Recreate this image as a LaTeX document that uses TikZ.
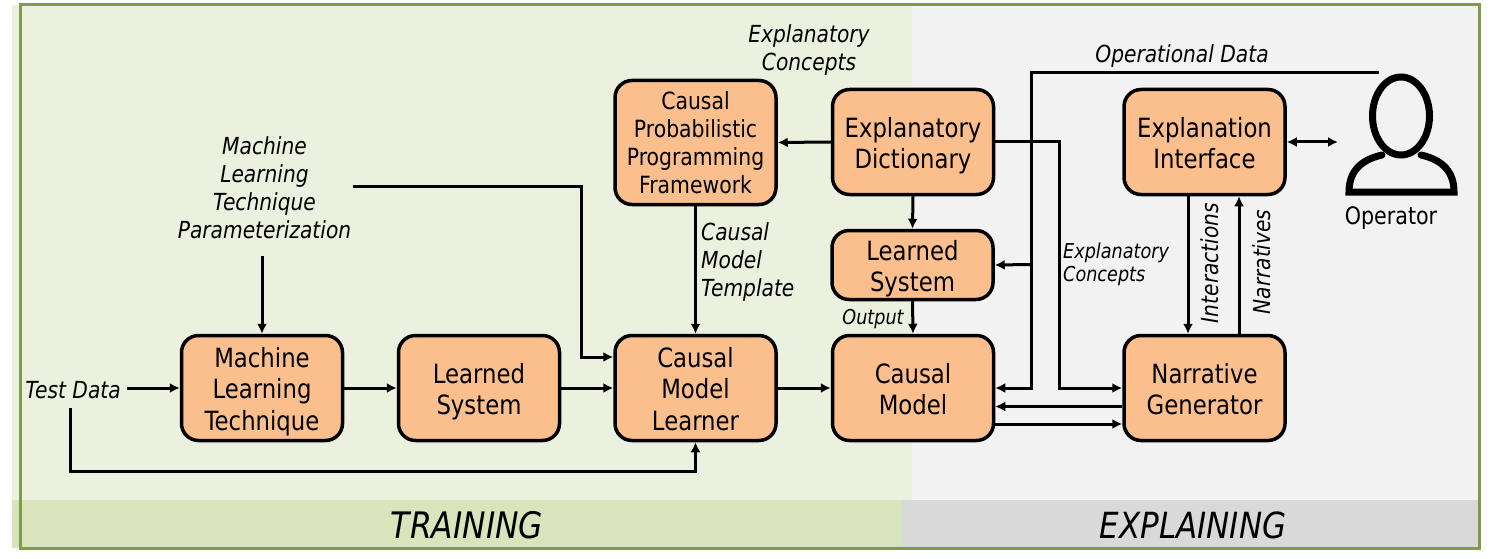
\documentclass[tikz,border=0pt]{standalone}
\usepackage{fontspec}
\setmainfont{DejaVu Sans}[FakeStretch=0.86]
\usetikzlibrary{arrows.meta}
\definecolor{boxfill}{HTML}{FBBF8E}
\definecolor{trainbg}{HTML}{ECF0DF}
\definecolor{explbg}{HTML}{F2F2F2}
\definecolor{trainband}{HTML}{DAE4BC}
\definecolor{explband}{HTML}{D9D9D9}
\definecolor{frame}{HTML}{7F9A48}
\newcommand{\lowered}[1]{\raisebox{-4.5pt}[\height][\depth]{\begin{tabular}{@{}c@{}}#1\end{tabular}}}
\tikzset{
  box/.style={draw=black,line width=3.5pt,rounded corners=17pt,fill=boxfill,inner sep=0pt,align=center,
    minimum width=161pt,minimum height=105pt,font=\fontsize{26.5}{31.5}\selectfont},
  conn/.style={line width=3pt,-{Latex[length=10pt,width=10pt]}},
  connb/.style={line width=3pt,{Latex[length=10pt,width=10pt]}-{Latex[length=10pt,width=10pt]}},
  lab/.style={font=\fontsize{23.5}{28}\selectfont\itshape,align=center,inner sep=0pt},
  iconline/.style={line width=7pt,line cap=round}
}
\begin{document}
\begin{tikzpicture}[x=1pt,y=-1pt]
\useasboundingbox (0,0) rectangle (1491,559);
\fill[white] (0,0) rectangle (1491,559);
\fill[trainbg] (12,5) rectangle (912,500);
\fill[explbg] (912,5) rectangle (1478,500);
\fill[trainband] (12,500) rectangle (902,548);
\fill[explband] (902,500) rectangle (1478,548);
\draw[frame,line width=3pt] (20,4.5) rectangle (1479,548);
% boxes
\node[box] (mlt) at (262,388) {\lowered{Machine\\Learning\\Technique}};
\node[box] (ls1) at (479,388) {\lowered{Learned\\System}};
\node[box] (cml) at (695.5,388) {\lowered{Causal\\Model\\Learner}};
\node[box] (cm) at (913,388) {\lowered{Causal\\Model}};
\node[box] (ng) at (1204.5,388) {\lowered{Narrative\\Generator}};
\node[box,minimum height=69pt] (ls2) at (912.5,265) {\lowered{Learned\\System}};
\node[box] (dict) at (913,142) {\lowered{Explanatory\\Dictionary}};
\node[box] (ei) at (1204.5,142) {\lowered{Explanation\\Interface}};
\node[box,minimum height=124pt,font=\fontsize{23.7}{27.8}\selectfont] (cppf) at (695.5,142.5) {Causal\\Probabilistic\\Programming\\Framework};
% labels
\node[lab] (test) at (73,390) {Test Data};
\node[lab] (mltp) at (264.5,188) {Machine\\Learning\\Technique\\Parameterization};
\node[lab] (ec1) at (809,50.5) {Explanatory\\Concepts};
\node[lab,align=left,anchor=west] (cmt) at (701,262) {Causal\\Model\\Template};
\node[lab,font=\fontsize{20.5}{23}\selectfont\itshape,align=left,anchor=west] (ec2) at (1063,264) {Explanatory\\Concepts};
\node[lab,font=\fontsize{20.5}{22}\selectfont\itshape] (out) at (873,319) {Output};
\node[lab] (opd) at (1182,56) {Operational Data};
\node[lab,rotate=90] (inter) at (1210,263) {Interactions};
\node[lab,rotate=90] (narr) at (1262,262) {Narratives};
\node[inner sep=0pt,font=\fontsize{24}{26}\selectfont] (oper) at (1391,218.5) {Operator};
\node[lab,font=\fontsize{36.5}{38}\selectfont\itshape] (tr) at (467,525) {TRAINING};
\node[lab,font=\fontsize{36}{38}\selectfont\itshape] (ex) at (1193,525) {EXPLAINING};
% person icon
\coordinate (head) at (1401,116);
\draw[iconline,line cap=butt] (head) ellipse [x radius=28.5pt,y radius=39pt];
\draw[iconline] (1382,155) .. controls (1360,160) and (1349,172) .. (1349,192) -- (1454,192) .. controls (1454,172) and (1443,160) .. (1421,155);
% free ends
\coordinate (opend) at (1379,72.5);
\coordinate (opcorner) at (1031,72.5);
\coordinate (eiop) at (1338,142);
\coordinate (tdout) at (127,388);
\coordinate (tddown) at (70.5,408);
\coordinate (mltpdown) at (262,256);
\coordinate (mltpright) at (353,186);
% connectors
\draw[conn] (tdout) -- (mlt.west);
\draw[conn] (mlt.east) -- (ls1.west);
\draw[conn] (ls1.east) -- (cml.west);
\draw[conn] (cml.east) -- (cm.west);
\draw[conn] (tddown) -- (70.5,471) -| (cml.south);
\draw[conn] (mltpdown) -- (mlt.north);
\draw[conn] (mltpright) -- (581,186) -- (581,357) -- (cml.west |- 0,357);
\draw[conn] (cppf.south) -- (cml.north);
\draw[conn] (dict.west) -- (cppf.east);
\draw[conn] (dict.south) -- (ls2.north);
\draw[conn] (ls2.south) -- (cm.north);
\draw[conn] (opend) -- (opcorner) -- (1031,388) -- (cm.east);
\draw[conn] (1031,264.5) -- (ls2.east);
\draw[conn] (dict.east) -- (1059,142) -- (1059,388) -- (ng.west);
\draw[conn] (ng.west |- 0,406.5) -- (cm.east |- 0,406.5);
\draw[conn] (cm.east |- 0,424) -- (ng.west |- 0,424);
\draw[connb] (ei.east) -- (eiop);
\draw[conn] (ei.south -| 1188,0) -- (ng.north -| 1188,0);
\draw[conn] (ng.north -| 1239,0) -- (ei.south -| 1239,0);
\end{tikzpicture}
\end{document}
